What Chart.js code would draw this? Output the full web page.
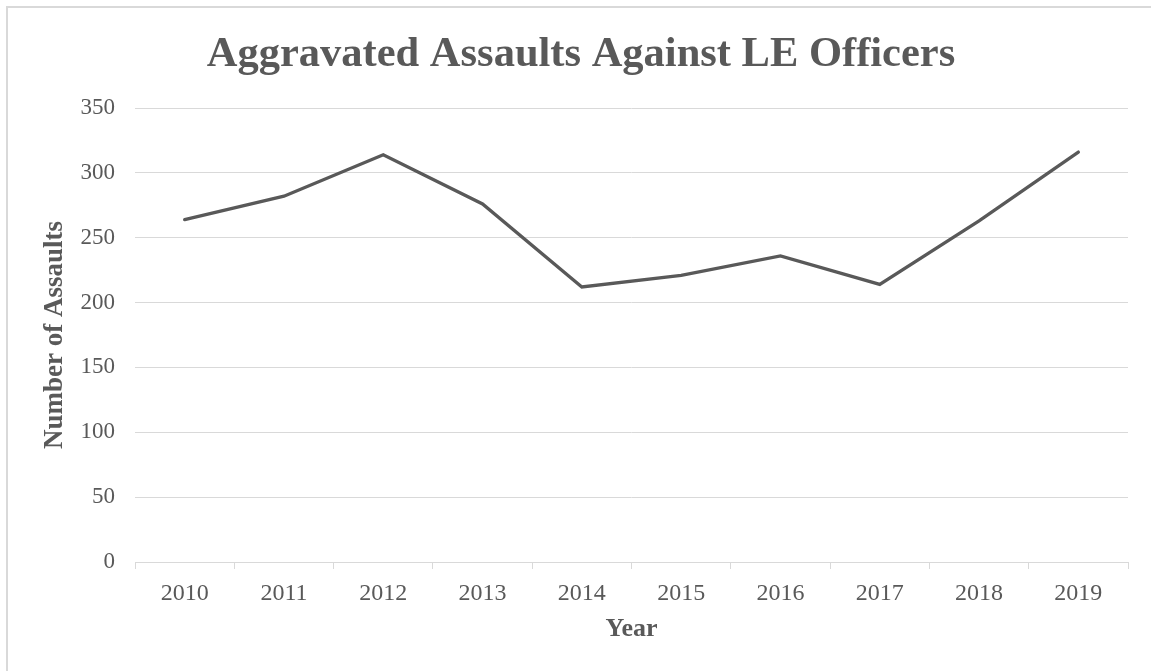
<!DOCTYPE html>
<html>
<head>
<meta charset="utf-8">
<script src="https://cdn.jsdelivr.net/npm/chart.js@4.4.0/dist/chart.umd.min.js"></script>
<style>
    html, body { margin: 0; padding: 0; background: #ffffff; }
    #wrap { width: 1151px; height: 671px; position: relative; }
</style>
</head>
<body>
<div id="wrap"><canvas id="assaultsChart"></canvas></div>
<script>
// Chart data
const years = ['2010', '2011', '2012', '2013', '2014', '2015', '2016', '2017', '2018', '2019'];
const assaults = [264, 282, 314, 276, 212, 221, 236, 214, 263, 316];
const yTicks = [0, 50, 100, 150, 200, 250, 300, 350];

const textColor = '#595959';
const gridColor = '#d9d9d9';
const serif = '"Liberation Serif", "Times New Roman", serif';

// Light frame on the top and left edges, like the exported chart
const framePlugin = {
    id: 'frame',
    beforeDraw(chart) {
        const ctx = chart.ctx;
        ctx.save();
        ctx.fillStyle = gridColor;
        ctx.fillRect(6, 6, chart.width - 6, 2);
        ctx.fillRect(6, 6, 2, chart.height - 6);
        ctx.restore();
    }
};

document.addEventListener('DOMContentLoaded', function () {
    const ctx = document.getElementById('assaultsChart').getContext('2d');

    new Chart(ctx, {
        type: 'line',
        data: {
            labels: years,
            datasets: [{
                label: 'Aggravated Assaults',
                data: assaults,
                borderColor: textColor,
                backgroundColor: textColor,
                borderWidth: 3.3,
                pointRadius: 0,
                tension: 0,
                borderCapStyle: 'round',
                borderJoinStyle: 'miter'
            }]
        },
        options: {
            responsive: true,
            maintainAspectRatio: false,
            animation: false,
            layout: {
                // left padding keeps the title centred like the original
                padding: { left: 34, right: 23, top: 0, bottom: 0 }
            },
            plugins: {
                legend: { display: false },
                tooltip: { enabled: false },
                title: {
                    display: true,
                    text: 'Aggravated Assaults Against LE Officers',
                    color: textColor,
                    font: { family: serif, size: 42.5, weight: 'bold' },
                    padding: { top: 30, bottom: 27 }
                }
            },
            scales: {
                x: {
                    offset: true,
                    grid: {
                        offset: true,
                        drawOnChartArea: false,
                        drawTicks: true,
                        tickLength: 7,
                        color: gridColor
                    },
                    border: { display: true, color: gridColor, width: 1 },
                    ticks: {
                        color: textColor,
                        font: { family: serif, size: 24 },
                        padding: 10,
                        maxRotation: 0
                    },
                    title: {
                        display: true,
                        text: 'Year',
                        color: textColor,
                        font: { family: serif, size: 26, weight: 'bold' },
                        padding: { top: 0, bottom: 26 }
                    },
                    afterFit(scale) {
                        scale.height = 109;
                    }
                },
                y: {
                    min: 0,
                    max: 350,
                    afterBuildTicks(scale) {
                        scale.ticks = yTicks.map(v => ({ value: v }));
                    },
                    grid: {
                        color: gridColor,
                        drawTicks: false
                    },
                    border: { display: false },
                    ticks: {
                        color: textColor,
                        font: { family: serif, size: 23 },
                        padding: 20
                    },
                    title: {
                        display: true,
                        text: 'Number of Assaults',
                        color: textColor,
                        font: { family: serif, size: 27, weight: 'bold' },
                        padding: { top: 5, bottom: 0 }
                    },
                    afterFit(scale) {
                        scale.width = 101;
                    }
                }
            }
        },
        plugins: [framePlugin]
    });
});
</script>
</body>
</html>
